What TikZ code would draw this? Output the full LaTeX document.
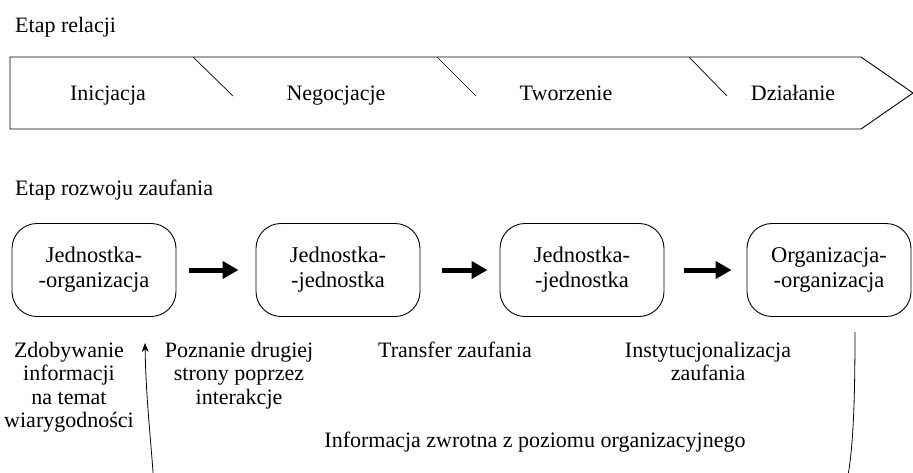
\documentclass[tikz,border=0pt]{standalone}
\usepackage{fontspec}
\setmainfont{Liberation Serif}
\usetikzlibrary{arrows.meta}
\begin{document}
\begin{tikzpicture}[x=1pt,y=-1pt,
  lbl/.style={font=\fontsize{22}{23.5}\selectfont, inner sep=0pt},
  multi/.style={lbl, align=center},
  box/.style={draw, line width=0.9pt, rounded corners=25pt, minimum width=164pt, minimum height=93pt, align=center, font=\fontsize{22.5}{25}\selectfont},
  bigarrow/.style={line width=5pt, -{Triangle[length=16pt,width=17pt]}},
  fb/.style={line width=0.8pt},
]
\useasboundingbox (0,0) rectangle (913,472);
\clip (0,0) rectangle (913,472);
% stage of relation
\node[lbl, anchor=base west] (er) at (15,32) {Etap relacji};
\coordinate (b1) at (10,57);
\coordinate (b2) at (861,57);
\coordinate (b3) at (913,93);
\coordinate (b4) at (861,129);
\coordinate (b5) at (10,129);
\draw[line width=0.9pt] (b1) -- (b2) -- (b3) -- (b4) -- (b5) -- cycle;
\coordinate (d1a) at (193,57); \coordinate (d1b) at (233,96);
\coordinate (d2a) at (437,57); \coordinate (d2b) at (476,96);
\coordinate (d3a) at (689,57); \coordinate (d3b) at (727,96);
\draw[line width=0.7pt] (d1a) -- (d1b) (d2a) -- (d2b) (d3a) -- (d3b);
\node[lbl, anchor=base] (s1) at (108,100) {Inicjacja};
\node[lbl, anchor=base] (s2) at (336,100) {Negocjacje};
\node[lbl, anchor=base] (s3) at (566,100) {Tworzenie};
\node[lbl, anchor=base] (s4) at (793,100) {Działanie};
% trust development
\node[lbl, anchor=base west] (ez) at (15,195) {Etap rozwoju zaufania};
\node[box] (n1) at (94,270) {Jednostka-\\-organizacja};
\node[box] (n2) at (338,270) {Jednostka-\\-jednostka};
\node[box] (n3) at (582,270) {Jednostka-\\-jednostka};
\node[box] (n4) at (829,270) {Organizacja-\\-organizacja};
\draw[bigarrow] ([xshift=13pt]n1.east) -- ([xshift=-17pt]n2.west);
\draw[bigarrow] ([xshift=22pt]n2.east) -- ([xshift=-12pt]n3.west);
\draw[bigarrow] ([xshift=20pt]n3.east) -- ([xshift=-15pt]n4.west);
% descriptions
\node[multi, anchor=north] (t1) at (69,342) {Zdobywanie\\informacji\\na temat\\wiarygodności};
\node[multi, anchor=north] (t2) at (239,342) {Poznanie drugiej\\strony poprzez\\interakcje};
\node[multi, anchor=north] (t3) at (455,342) {Transfer zaufania};
\node[multi, anchor=north] (t4) at (708,342) {Instytucjonalizacja\\zaufania};
\node[lbl, anchor=base] (fbt) at (535,447) {Informacja zwrotna z poziomu organizacyjnego};
% feedback loop
\coordinate (f1) at (855,332);
\coordinate (f2) at (846,486);
\coordinate (f3) at (154,486);
\coordinate (f4) at (145,343);
\draw[fb, -{Stealth[length=9pt,width=7pt]}] (f1) .. controls (855,420) and (852,458) .. (f2) -- (f3) .. controls (151,440) and (146,400) .. (f4);
\end{tikzpicture}
\end{document}
